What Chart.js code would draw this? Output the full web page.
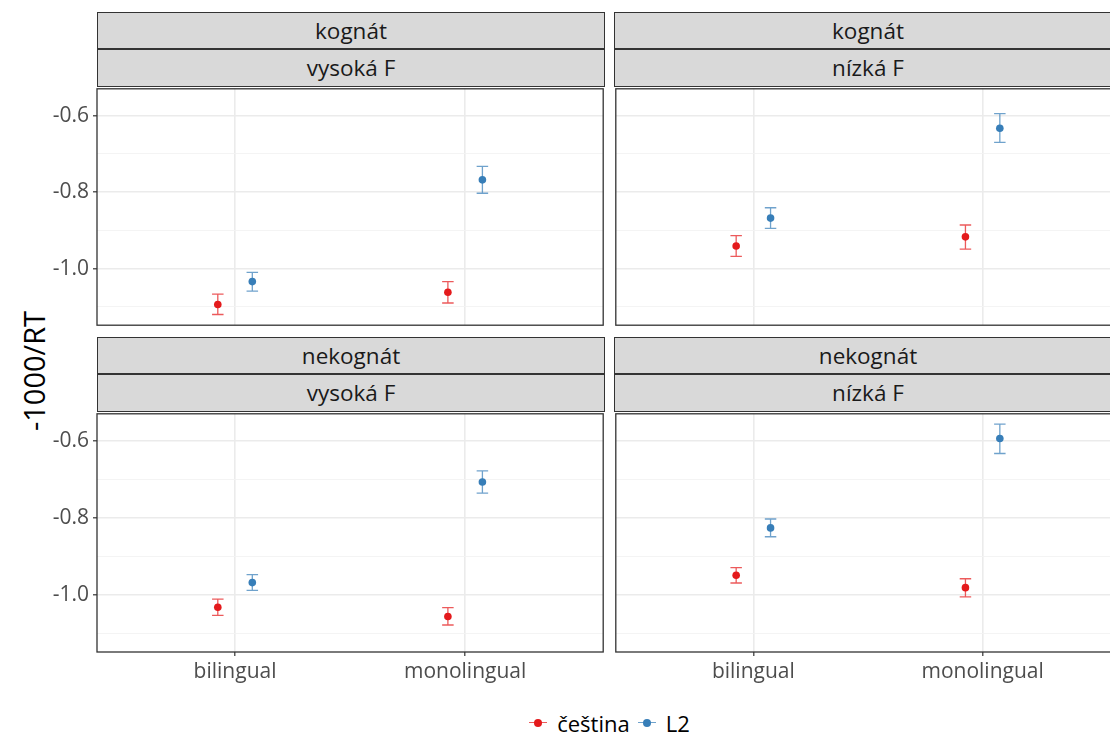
<!DOCTYPE html>
<html>
<head>
<meta charset="utf-8">
<script src="https://cdn.jsdelivr.net/npm/chart.js@4.4.1/dist/chart.umd.min.js"></script>
<style>
  html, body { margin: 0; padding: 0; background: #fff; width: 1110px; height: 733px; overflow: hidden; }
  #fig { position: relative; width: 1110px; height: 733px; overflow: hidden; font-family: "Open Sans", sans-serif; }
  .strip { position: absolute; box-sizing: border-box; background: #d9d9d9; border: 1px solid #333;
           color: #1a1a1a; font-size: 22.5px; text-align: center; white-space: nowrap; }
  .panel { position: absolute; }
  #ytitle { position: absolute; left: 33px; top: 371px; transform: translate(-50%, -50%) rotate(-90deg);
            font-size: 29px; color: #000; white-space: nowrap; }
  #legend { position: absolute; left: 97px; width: 1025px; top: 708px; height: 30px; display: flex;
            justify-content: center; align-items: center; font-size: 22px; color: #000; }
  .key { position: relative; width: 18px; height: 20px; margin: 0 10px 0 4px; }
  .key .ln { position: absolute; left: 0; right: 0; top: 9px; height: 1.4px; }
  .key .dt { position: absolute; left: 5px; top: 6px; width: 8px; height: 8px; border-radius: 50%; }
  .item { display: flex; align-items: center; margin-right: 4px; }
</style>
</head>
<body>
<div id="fig">
  <div id="ytitle">-1000/RT</div>
  <div id="legend"></div>
</div>
<script>
// Facet labels (rows: word type, columns: frequency)
const wordType = ['kognát', 'nekognát'];
const frequency = ['vysoká F', 'nízká F'];

// Group categories on the x axis
const groups = ['bilingual', 'monolingual'];

// Series
const seriesNames = ['čeština', 'L2'];
const seriesColors = ['#E41A1C', '#377EB8'];
const seriesBarColors = ['rgba(228,26,28,0.72)', 'rgba(55,126,184,0.72)'];

// Values per panel: [kognát/vysoká, kognát/nízká, nekognát/vysoká, nekognát/nízká],
// each as [bilingual, monolingual]
const cestinaMean = [[-1.094, -1.062], [-0.941, -0.917], [-1.032, -1.056], [-0.949, -0.981]];
const cestinaLow  = [[-1.120, -1.090], [-0.968, -0.949], [-1.053, -1.078], [-0.969, -1.005]];
const cestinaHigh = [[-1.067, -1.034], [-0.914, -0.886], [-1.011, -1.033], [-0.929, -0.958]];

const l2Mean = [[-1.034, -0.768], [-0.868, -0.633], [-0.968, -0.707], [-0.826, -0.594]];
const l2Low  = [[-1.059, -0.803], [-0.895, -0.670], [-0.988, -0.736], [-0.849, -0.633]];
const l2High = [[-1.010, -0.733], [-0.841, -0.595], [-0.947, -0.678], [-0.803, -0.557]];

// Axis ticks
const yMajorTicks = [-0.6, -0.8, -1.0];
const yMinorTicks = [-0.7, -0.9, -1.1];
const yRange = [-1.148, -0.530];

const DODGE = 0.075;     // half of the dodge width between series
const CAP = 0.05;        // error bar cap width in x units
const TICK_FONT = { family: 'Open Sans', size: 21 };

const meanSets = [cestinaMean, l2Mean];
const lowSets = [cestinaLow, l2Low];
const highSets = [cestinaHigh, l2High];

// Draws vertical error bars with caps from each point's lo/hi
const errorBars = {
  id: 'errorBars',
  beforeDatasetsDraw(chart) {
    const { ctx, scales: { x, y } } = chart;
    chart.data.datasets.forEach(ds => {
      ctx.save();
      ctx.strokeStyle = ds.errorColor;
      ctx.lineWidth = 1.3;
      ds.data.forEach(p => {
        const px = x.getPixelForValue(p.x);
        const half = x.getPixelForValue(p.x + CAP / 2) - px;
        const yl = y.getPixelForValue(p.lo), yh = y.getPixelForValue(p.hi);
        ctx.beginPath();
        ctx.moveTo(px, yl); ctx.lineTo(px, yh);
        ctx.moveTo(px - half, yl); ctx.lineTo(px + half, yl);
        ctx.moveTo(px - half, yh); ctx.lineTo(px + half, yh);
        ctx.stroke();
      });
      ctx.restore();
    });
  }
};

// Frame around the plotting area
const panelBorder = {
  id: 'panelBorder',
  afterDatasetsDraw(chart) {
    const { ctx, chartArea: a } = chart;
    ctx.save();
    ctx.strokeStyle = '#333333';
    ctx.lineWidth = 1.3;
    ctx.strokeRect(a.left, a.top, a.right - a.left, a.bottom - a.top);
    ctx.restore();
  }
};

// Fixes an axis box to an exact size with no extra label padding
function fixBox(scale, w, h) {
  if (w !== null) scale.width = w;
  if (h !== null) scale.height = h;
  scale.paddingTop = 0; scale.paddingBottom = 0;
  scale.paddingLeft = 0; scale.paddingRight = 0;
}

const fig = document.getElementById('fig');

// Panel geometry
const colLeft = [97, 614];
const panelW = 508;
const rowStripTop = [12, 337];
const rowPlotTop = [87, 412];
const plotH = 240;
const stripH = 37;

function addStrip(text, left, top, h) {
  const d = document.createElement('div');
  d.className = 'strip';
  d.style.left = left + 'px';
  d.style.top = top + 'px';
  d.style.width = panelW + 'px';
  d.style.height = h + 'px';
  d.style.lineHeight = (h - 2) + 'px';
  d.textContent = text;
  fig.appendChild(d);
}

const isMajor = v => yMajorTicks.some(t => Math.abs(t - v) < 1e-9);

for (let r = 0; r < 2; r++) {
  for (let c = 0; c < 2; c++) {
    const k = r * 2 + c;
    const left = colLeft[c];
    addStrip(wordType[r], left, rowStripTop[r], stripH);
    addStrip(frequency[c], left, rowStripTop[r] + stripH, rowPlotTop[r] - rowStripTop[r] - stripH);

    const showY = c === 0;
    const showX = r === 1;
    const yAxisW = showY ? left : 2;
    const xAxisH = showX ? 40 : 2;
    const canvasLeft = left - yAxisW;
    const canvasW = yAxisW + panelW + 2;
    const canvasTop = rowPlotTop[r] - 2;
    const canvasH = 2 + plotH + xAxisH;

    const wrap = document.createElement('div');
    wrap.className = 'panel';
    wrap.style.left = canvasLeft + 'px';
    wrap.style.top = canvasTop + 'px';
    wrap.style.width = canvasW + 'px';
    wrap.style.height = canvasH + 'px';
    const cv = document.createElement('canvas');
    cv.width = canvasW; cv.height = canvasH;
    cv.style.width = canvasW + 'px'; cv.style.height = canvasH + 'px';
    wrap.appendChild(cv);
    fig.appendChild(wrap);

    const datasets = seriesNames.map((name, s) => ({
      label: name,
      data: groups.map((g, gi) => ({
        x: gi + 1 + (s === 0 ? -DODGE : DODGE),
        y: meanSets[s][k][gi],
        lo: lowSets[s][k][gi],
        hi: highSets[s][k][gi]
      })),
      backgroundColor: seriesColors[s],
      borderColor: seriesColors[s],
      borderWidth: 0,
      pointRadius: 3.8,
      pointHoverRadius: 3.8,
      showLine: false,
      errorColor: seriesBarColors[s]
    }));

    new Chart(cv, {
      type: 'scatter',
      data: { datasets },
      plugins: [errorBars, panelBorder],
      options: {
        responsive: false,
        animation: false,
        events: [],
        layout: { padding: { top: 2, right: 2, left: 0, bottom: 0 } },
        plugins: { legend: { display: false }, tooltip: { enabled: false } },
        scales: {
          x: {
            type: 'linear',
            min: 0.4, max: 2.6,
            afterBuildTicks: s => { s.ticks = groups.map((g, i) => ({ value: i + 1 })); },
            afterFit: s => fixBox(s, null, xAxisH),
            border: { display: false },
            grid: {
              color: '#ebebeb', lineWidth: 1.6,
              drawTicks: showX, tickLength: 4, tickColor: '#333333', tickWidth: 1.2
            },
            ticks: {
              display: showX,
              padding: 3,
              color: '#4d4d4d',
              font: TICK_FONT,
              maxRotation: 0,
              autoSkip: false,
              callback: v => groups[Math.round(v) - 1]
            }
          },
          y: {
            type: 'linear',
            min: yRange[0], max: yRange[1],
            afterBuildTicks: s => {
              s.ticks = yMinorTicks.concat(yMajorTicks).sort((a, b) => a - b).map(v => ({ value: v }));
            },
            afterFit: s => fixBox(s, yAxisW, null),
            border: { display: false },
            grid: {
              color: ctx => isMajor(ctx.tick.value) ? '#ebebeb' : '#f3f3f3',
              lineWidth: ctx => isMajor(ctx.tick.value) ? 1.6 : 0.9,
              drawTicks: showY, tickLength: 4,
              tickColor: ctx => isMajor(ctx.tick.value) ? '#333333' : 'rgba(0,0,0,0)',
              tickWidth: 1.2
            },
            ticks: {
              display: showY,
              padding: 4,
              color: '#4d4d4d',
              font: TICK_FONT,
              autoSkip: false,
              callback: v => isMajor(v) ? v.toFixed(1) : ''
            }
          }
        }
      }
    });
  }
}

// Legend
const legend = document.getElementById('legend');
seriesNames.forEach((name, s) => {
  const item = document.createElement('div');
  item.className = 'item';
  const key = document.createElement('div');
  key.className = 'key';
  const ln = document.createElement('div');
  ln.className = 'ln'; ln.style.background = seriesBarColors[s];
  const dt = document.createElement('div');
  dt.className = 'dt'; dt.style.background = seriesColors[s];
  key.appendChild(ln); key.appendChild(dt);
  const tx = document.createElement('span');
  tx.textContent = name;
  item.appendChild(key); item.appendChild(tx);
  legend.appendChild(item);
});
</script>
</body>
</html>
